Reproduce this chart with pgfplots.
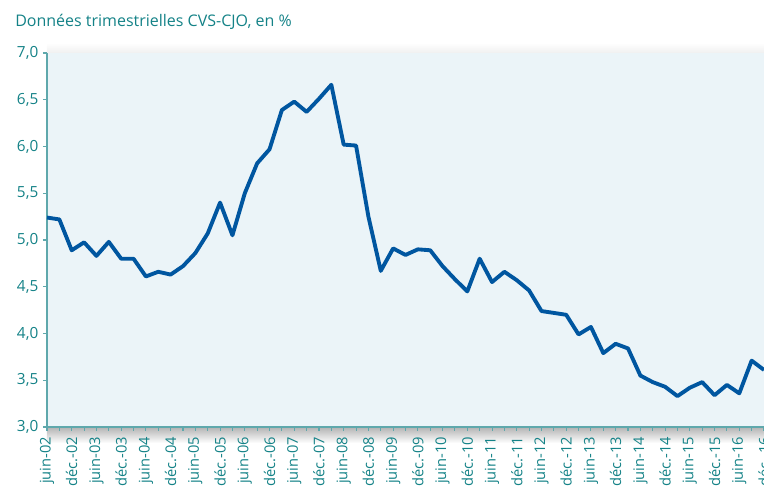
\documentclass[border=0pt]{standalone}
\usepackage{fontspec}
\setmainfont{Open Sans}
\usepackage{pgfplots}
\pgfplotsset{compat=1.18}
\usetikzlibrary{calc}
\definecolor{teal1}{RGB}{20,130,135}
\definecolor{axc}{RGB}{95,168,172}
\definecolor{bgb}{RGB}{235,244,248}
\definecolor{lineb}{RGB}{0,86,160}
\begin{document}
\begin{tikzpicture}[x=1pt,y=1pt]
\path[use as bounding box, clip] (-35.25,-53.25) rectangle (537.75,320.25);
\shade[top color=black!30, bottom color=white] (0,0) rectangle (537.75,-12);
\shade[top color=white, bottom color=black!6] (0,280.5) rectangle (537.75,288);
\begin{axis}[name=ax, at={(0,0)}, anchor=south west, scale only axis,
  width=537.75pt, height=280.5pt,
  xmin=0, xmax=58, ymin=3, ymax=7,
  axis lines*=left,
  axis line style={axc, line width=1pt},
  axis background/.style={fill=bgb},
  ytick={3,3.5,4,4.5,5,5.5,6,6.5,7},
  xtick={0,2,...,58},
  minor xtick={1,3,...,57},
  xticklabels={juin-02,déc.-02,juin-03,déc.-03,juin-04,déc.-04,juin-05,déc.-05,juin-06,déc.-06,juin-07,déc.-07,juin-08,déc.-08,juin-09,déc.-09,juin-10,déc.-10,juin-11,déc.-11,juin-12,déc.-12,juin-13,déc.-13,juin-14,déc.-14,juin-15,déc.-15,juin-16,déc.-16},
  x tick label style={rotate=90, anchor=east, font=\fontsize{11}{13}\selectfont, color=teal1, xshift=-1pt},
  y tick label style={font=\fontsize{11.5}{13}\selectfont, color=teal1},
  yticklabel style={/pgf/number format/.cd, fixed, fixed zerofill, precision=1, use comma, assume math mode=true},
  tick align=outside,
  major tick length=3pt, minor tick length=3pt,
  tick style={axc, line width=0.8pt},
]
\addplot[lineb, line width=2.9pt, line join=round] table {
x y
0 5.24
1 5.22
2 4.89
3 4.975
4 4.83
5 4.98
6 4.80
7 4.80
8 4.61
9 4.66
10 4.63
11 4.72
12 4.86
13 5.07
14 5.40
15 5.05
16 5.50
17 5.82
18 5.97
19 6.39
20 6.48
21 6.37
22 6.51
23 6.66
24 6.02
25 6.01
26 5.25
27 4.67
28 4.91
29 4.84
30 4.90
31 4.89
32 4.72
33 4.58
34 4.45
35 4.80
36 4.55
37 4.66
38 4.57
39 4.46
40 4.24
41 4.22
42 4.20
43 3.99
44 4.07
45 3.79
46 3.89
47 3.84
48 3.55
49 3.48
50 3.43
51 3.33
52 3.42
53 3.48
54 3.34
55 3.45
56 3.36
57 3.71
58 3.61
};
\end{axis}
\node[anchor=base west, font=\fontsize{12}{14}\selectfont, color=teal1, inner sep=0pt] at (-24,300) {Données trimestrielles CVS-CJO, en \%};
\end{tikzpicture}
\end{document}
